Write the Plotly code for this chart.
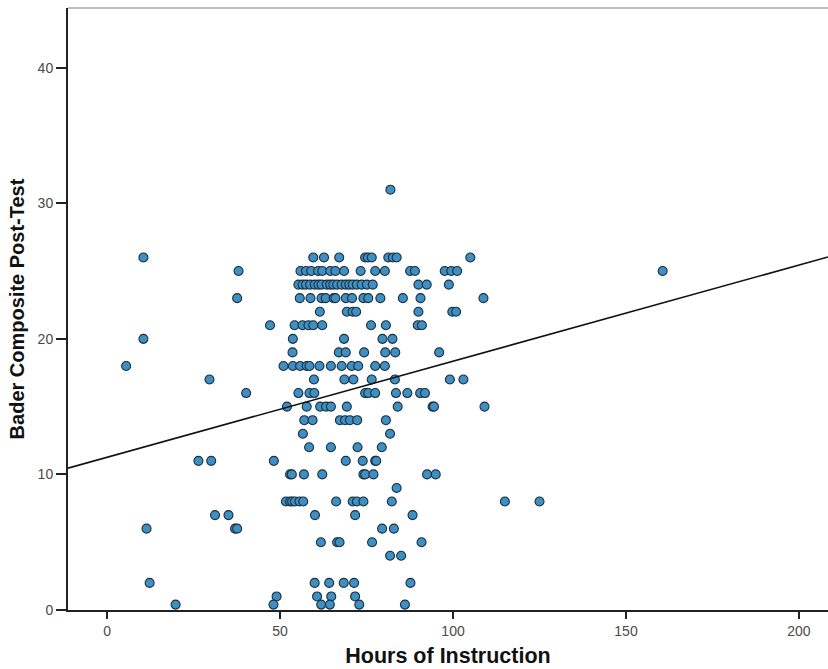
import plotly.graph_objects as go

# Score levels (y) and the hours of instruction (x) of the cases at each level
score_levels = [31, 26, 25, 24, 23, 22, 21, 20, 19, 18, 17, 16, 15, 14, 13, 12,
                11, 10, 9, 8, 7, 6, 5, 4, 2, 1, 0.4]

hours_31 = [81.9]
hours_26 = [10.5, 59.6, 62.7, 67.1, 74.6, 75.4, 76.5, 81.3, 82.6, 83.7, 105.0]
hours_25 = [38.0, 55.9, 57.5, 59.0, 61.0, 62.2, 64.5, 66.0, 68.5, 73.3, 77.5,
            80.3, 87.6, 89.0, 97.6, 99.5, 101.2, 160.6]
hours_24 = [55.3, 56.5, 57.5, 58.7, 60.0, 61.1, 62.0, 63.5, 64.5, 65.4, 66.5,
            67.8, 69.0, 70.0, 71.0, 72.2, 73.6, 75.1, 76.8, 90.0, 92.4, 98.8]
hours_23 = [37.6, 55.7, 58.8, 62.0, 63.2, 65.5, 66.0, 69.0, 70.8, 74.1, 75.5,
            79.0, 85.5, 90.6, 108.8]
hours_22 = [61.5, 69.3, 71.0, 72.0, 90.0, 99.8, 100.9]
hours_21 = [47.1, 54.2, 56.5, 58.2, 59.6, 62.2, 76.3, 80.6, 89.8, 91.0]
hours_20 = [10.5, 53.7, 68.5, 79.6, 82.5]
hours_19 = [53.6, 67.0, 69.0, 74.3, 80.4, 83.3, 96.0]
hours_18 = [5.5, 51.0, 53.7, 55.8, 57.7, 58.5, 61.4, 64.7, 67.8, 70.7, 72.6,
            77.5, 80.3]
hours_17 = [29.6, 59.8, 68.6, 71.2, 76.5, 83.2, 99.1, 103.0]
hours_16 = [40.2, 55.3, 58.5, 59.9, 74.6, 75.5, 77.5, 83.5, 86.8, 90.5, 91.9]
hours_15 = [52.0, 57.7, 61.6, 63.3, 64.7, 69.3, 84.0, 94.1, 94.5, 109.1]
hours_14 = [57.0, 59.4, 67.3, 68.8, 70.2, 72.3, 80.6]
hours_13 = [56.6, 81.8]
hours_12 = [58.4, 64.7, 72.4, 79.4]
hours_11 = [26.4, 30.1, 48.2, 69.0, 73.9, 77.5, 77.8]
hours_10 = [52.9, 53.4, 56.9, 62.2, 74.1, 74.6, 77.0, 92.5, 95.0]
hours_9 = [83.7]
hours_8 = [51.7, 52.9, 53.5, 54.3, 55.6, 56.7, 66.2, 71.0, 72.2, 74.1, 82.3,
           115.0, 125.0]
hours_7 = [31.2, 35.1, 60.1, 71.7, 88.3]
hours_6 = [11.4, 37.0, 37.6, 79.5, 82.9]
hours_5 = [61.8, 66.5, 67.2, 76.6, 90.9]
hours_4 = [81.8, 85.0]
hours_2 = [12.3, 60.0, 64.2, 68.4, 71.4, 87.7]
hours_1 = [49.0, 60.7, 64.8, 71.7]
hours_0 = [19.8, 48.1, 61.9, 64.4, 72.9, 86.1]

hours_by_level = [hours_31, hours_26, hours_25, hours_24, hours_23, hours_22,
                  hours_21, hours_20, hours_19, hours_18, hours_17, hours_16,
                  hours_15, hours_14, hours_13, hours_12, hours_11, hours_10,
                  hours_9, hours_8, hours_7, hours_6, hours_5, hours_4,
                  hours_2, hours_1, hours_0]

# Fit line
fit_intercept = 11.26
fit_slope = 0.0709

x_ticks = [0, 50, 100, 150, 200]
y_ticks = [0, 10, 20, 30, 40]
x_range = [-11.3, 208.4]
y_range = [0, 44.4]

xs, ys = [], []
for lvl, hrs in zip(score_levels, hours_by_level):
    for h in hrs:
        xs.append(h)
        ys.append(lvl)

fig = go.Figure()
fig.add_trace(go.Scatter(
    x=xs, y=ys, mode="markers",
    marker=dict(size=9, color="#3f90c2", line=dict(color="#1a2f40", width=1.1)),
    hoverinfo="x+y", showlegend=False, cliponaxis=False,
))
line_x = x_range
line_y = [fit_intercept + fit_slope * v for v in line_x]
fig.add_trace(go.Scatter(
    x=line_x, y=line_y, mode="lines",
    line=dict(color="#111111", width=1.6), showlegend=False, hoverinfo="skip",
))

axis_font = dict(family="Liberation Sans, Arial, sans-serif", size=14, color="#4a4a4a")
ytitle_font = dict(family="Liberation Sans, Arial, sans-serif", size=20, color="#111111")
xtitle_font = dict(family="Liberation Sans, Arial, sans-serif", size=21.5, color="#111111")

fig.update_layout(
    width=828, height=669,
    margin=dict(l=68, r=0, t=8, b=59),
    paper_bgcolor="white", plot_bgcolor="white",
    font=axis_font,
    xaxis=dict(
        range=x_range, tickvals=x_ticks, ticks="outside", ticklen=7, tickwidth=1.5,
        tickcolor="#222222", showline=True, linecolor="#222222", linewidth=2,
        showgrid=False, zeroline=False, tickfont=axis_font,
        title=dict(text="<b>Hours of Instruction</b>", font=xtitle_font, standoff=10),
    ),
    yaxis=dict(
        range=y_range, tickvals=y_ticks, ticks="outside", ticklen=10, tickwidth=1.5,
        tickcolor="#222222", showline=True, linecolor="#222222", linewidth=2,
        showgrid=False, zeroline=False, tickfont=axis_font,
        title=dict(text="<b>Bader Composite Post-Test</b>", font=ytitle_font, standoff=8),
    ),
    shapes=[dict(type="line", xref="paper", yref="paper", x0=0, x1=1, y0=1, y1=1,
                 line=dict(color="#a8a8a8", width=1.5))],
)

fig.write_html("out.html")
